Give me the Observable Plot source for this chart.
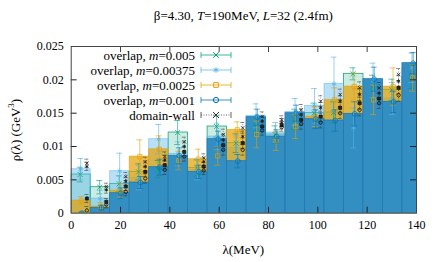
<!DOCTYPE html>
<html><head><meta charset="utf-8">
<script src="https://cdn.jsdelivr.net/npm/d3@7"></script>
<script src="https://cdn.jsdelivr.net/npm/@observablehq/plot@0.6"></script>
<style>
body{margin:0;background:#fff;font-family:"Liberation Serif","Times New Roman",Times,serif;}
#wrap{position:relative;width:436px;height:262px;font-family:"Liberation Serif","Times New Roman",Times,serif;color:#000;}
.lab{position:absolute;font-family:"Liberation Serif","Times New Roman",Times,serif !important;font-size:13px;line-height:13px;white-space:nowrap;}
#overlay{position:absolute;left:0;top:0;pointer-events:none;}
svg text{font-family:"Liberation Serif","Times New Roman",Times,serif !important;}
</style></head><body>
<div id="wrap">
  <div id="plot"></div>
  <div class="lab" id="title" style="left:70.7px;width:345.3px;top:9px;text-align:center;">β=4.30, <i>T</i>=190MeV, <i>L</i>=32 (2.4fm)</div>
  <div class="lab" id="xlab" style="left:70.7px;width:345.3px;top:243px;text-align:center;">λ(MeV)</div>
  <div class="lab" id="ylab" style="left:15px;top:130px;transform:translate(-50%,-50%) rotate(-90deg);">ρ(λ) (GeV<sup style="font-size:9px;line-height:0">3</sup>)</div>
</div>
<script>
// ---- data ----
const binWidth = 7.9;               // MeV
const binCount = 18;
const xTicks = [0, 20, 40, 60, 80, 100, 120, 140];
const yTicks = [0, 0.005, 0.01, 0.015, 0.02, 0.025];

const seriesNames = ["overlap, m=0.005", "overlap, m=0.00375", "overlap, m=0.0025", "overlap, m=0.001", "domain-wall"];

// overlap histograms (rho per bin) and errors
const ov005   = [0.0058,0.0039,0.0044,0.0062,0.0066,0.0121,0.0068,0.0130,0.0105,0.0131,0.0118,0.0141,0.0150,0.0151,0.0209,0.0189,0.0185,0.0205];
const ov00375 = [0.0066,0.0022,0.0063,0.0053,0.0111,0.0089,0.0065,0.0115,0.0098,0.0146,0.0121,0.0152,0.0161,0.0194,0.0128,0.0199,0.0172,0.0218];
const ov0025  = [0.0019,0.0010,0.0034,0.0085,0.0096,0.0079,0.0081,0.0086,0.0125,0.0118,0.0108,0.0130,0.0145,0.0170,0.0190,0.0170,0.0190,0.0203];
const ov001   = [0.0000,0.0008,0.0030,0.0046,0.0069,0.0086,0.0062,0.0111,0.0078,0.0144,0.0115,0.0150,0.0141,0.0139,0.0149,0.0201,0.0167,0.0225];

const err005   = [0.0011,0.0010,0.0012,0.0012,0.0013,0.0018,0.0012,0.0016,0.0014,0.0013,0.0013,0.0015,0.0015,0.0016,0.0009,0.0018,0.0016,0.0018];
const err00375 = [0.0016,0.0012,0.0027,0.0018,0.0022,0.0018,0.0015,0.0020,0.0018,0.0018,0.0015,0.0020,0.0026,0.0040,0.0030,0.0026,0.0024,0.0022];
const err0025  = [0.0006,0.0006,0.0010,0.0025,0.0020,0.0014,0.0015,0.0014,0.0012,0.0020,0.0014,0.0018,0.0015,0.0018,0.0020,0.0022,0.0028,0.0020];
const err001   = [0.0002,0.0004,0.0008,0.0009,0.0012,0.0012,0.0010,0.0012,0.0010,0.0012,0.0010,0.0012,0.0014,0.0016,0.0018,0.0018,0.0016,0.0016];

// domain-wall points (four masses) and errors
const dwA = [0.0075,0.0040,0.0055,0.0077,0.0085,0.0107,0.0083,0.0118,0.0128,0.0145,0.0140,0.0155,0.0168,0.0178,0.0188,0.0188,0.0208,null];
const dwB = [0.0070,0.0035,0.0048,0.0070,0.0080,0.0100,0.0077,0.0110,0.0115,0.0138,0.0136,0.0148,0.0158,0.0168,0.0178,0.0180,0.0198,null];
const dwC = [0.0022,0.0017,0.0040,0.0062,0.0072,0.0092,0.0070,0.0102,0.0105,0.0130,0.0132,0.0140,0.0145,0.0158,0.0165,0.0172,0.0188,null];
const dwD = [0.0004,0.0013,0.0032,0.0052,0.0065,0.0085,0.0064,0.0095,0.0095,0.0124,0.0129,0.0134,0.0136,0.0150,0.0155,0.0165,0.0177,null];
const dwErr = [0.0006,0.0005,0.0006,0.0007,0.0007,0.0007,0.0006,0.0008,0.0008,0.0007,0.0006,0.0008,0.0008,0.0008,0.0009,0.0008,0.0009,null];

// ---- styles ----
const serif = "'Liberation Serif', 'Times New Roman', Times, serif";
const ovColors = ["#009e73", "#56b4e9", "#e69f00", "#0072b2"];
const ovSymbols = ["times", "asterisk", "square", "circle"];
const ovOffsets = [-0.3, -0.1, 0.15, 0.4];
const dwOffset = 2.4;
const capHalf = 1.2;

const ovValues = [ov005, ov00375, ov0025, ov001];
const ovErrors = [err005, err00375, err0025, err001];
const dwValues = [dwA, dwB, dwC, dwD];

const bins = d3.range(binCount).map(k => ({k, x1: k * binWidth, x2: (k + 1) * binWidth, xc: (k + 0.5) * binWidth}));

const barStyles = [
  {fill: "#009e73", fillOpacity: 0.2, stroke: "#009e73", strokeOpacity: 0.9},
  {fill: "#56b4e9", fillOpacity: 0.42, stroke: "#56b4e9", strokeOpacity: 0.6},
  {fill: "#e69f00", fillOpacity: 0.7, stroke: "#e69f00", strokeOpacity: 0.6},
  {fill: "#338ec2", fillOpacity: 1, stroke: "#2079b3", strokeOpacity: 1}
];

const marks = [];
ovValues.forEach((vals, s) => {
  const rows = bins.map(b => ({...b, v: vals[b.k]}));
  marks.push(Plot.rectY(rows, {x1: "x1", x2: "x2", y: "v", ...barStyles[s], strokeWidth: 0.8, clip: true}));
});

function errorMarks(rows, color, opacity, dash, cap) {
  const o = {stroke: color, strokeOpacity: opacity, strokeWidth: 1, clip: true};
  return [
    Plot.ruleX(rows, {x: "xp", y1: d => d.v - d.e, y2: d => d.v + d.e, ...o, strokeDasharray: dash}),
    Plot.ruleY(rows, {y: d => d.v + d.e, x1: d => d.xp - cap, x2: d => d.xp + cap, ...o}),
    Plot.ruleY(rows, {y: d => d.v - d.e, x1: d => d.xp - cap, x2: d => d.xp + cap, ...o})
  ];
}

ovValues.forEach((vals, s) => {
  const rows = bins.map(b => ({xp: b.xc + ovOffsets[s], v: vals[b.k], e: ovErrors[s][b.k]}));
  marks.push(...errorMarks(rows, ovColors[s], 0.6, null, capHalf));
  marks.push(Plot.dot(rows, {x: "xp", y: "v", symbol: ovSymbols[s], r: 2.4, stroke: ovColors[s], strokeOpacity: 0.7, strokeWidth: 1, fill: s === 1 ? ovColors[s] : "none", fillOpacity: 0.5, clip: true}));
});

dwValues.forEach((vals, s) => {
  const rows = bins.filter(b => vals[b.k] != null).map(b => ({xp: b.xc + dwOffset, v: vals[b.k], e: dwErr[b.k]}));
  marks.push(...errorMarks(rows, "#333", 0.55, "1,1.5", 0.8));
  marks.push(Plot.dot(rows, {x: "xp", y: "v", symbol: ovSymbols[s], r: 1.7, stroke: "#111", strokeOpacity: 0.85, strokeWidth: 0.9, fill: s === 2 ? "#222" : "none", clip: true}));
});

// inward ticks (all four sides) and frame
marks.push(Plot.ruleY(yTicks.slice(1, -1), {y: d => d, x1: 0, x2: 2.4, stroke: "#222"}));
marks.push(Plot.ruleY(yTicks.slice(1, -1), {y: d => d, x1: 137.6, x2: 140, stroke: "#222"}));
marks.push(Plot.ruleX(xTicks.slice(1, -1), {x: d => d, y1: 0, y2: 0.0009, stroke: "#222"}));
marks.push(Plot.ruleX(xTicks.slice(1, -1), {x: d => d, y1: 0.0241, y2: 0.025, stroke: "#444"}));
marks.push(Plot.frame({stroke: "#444", strokeWidth: 1}));
marks.push(Plot.axisX({ticks: xTicks, tickSize: 0, tickPadding: 7, tickFormat: d => String(d), label: null, fontSize: 12, fontFamily: serif}));
marks.push(Plot.axisY({ticks: yTicks, tickSize: 0, tickPadding: 7.5, tickFormat: d => String(d), label: null, fontSize: 12, fontFamily: serif}));

const chart = Plot.plot({
  width: 436, height: 262,
  marginLeft: 70.7, marginRight: 20, marginTop: 46, marginBottom: 49.3,
  x: {domain: [0, 140]},
  y: {domain: [0, 0.025]},
  style: {fontFamily: serif, fontSize: "12px", color: "#000", background: "#fff"},
  marks
});
document.getElementById("plot").appendChild(chart);

// ---- legend (inside plot, top-left) ----
const legendY = [55, 70, 85, 100, 115];
const svg = d3.select("#wrap").append("svg").attr("id", "overlay").attr("width", 436).attr("height", 262);
seriesNames.forEach((name, i) => {
  const y = legendY[i];
  const t = svg.append("text").attr("x", 195).attr("y", y).attr("dy", "0.35em")
    .attr("text-anchor", "end").attr("font-size", 13)
    .attr("font-family", serif);
  const parts = name.split("m=");
  if (parts.length === 2) {
    t.append("tspan").text(parts[0]);
    t.append("tspan").attr("font-style", "italic").text("m");
    t.append("tspan").text("=" + parts[1]);
  } else t.text(name);
  const isDw = i === 4;
  const col = isDw ? "#555" : ovColors[i];
  const g = svg.append("g").attr("stroke", col).attr("stroke-opacity", isDw ? 0.9 : 0.75).attr("fill", "none");
  g.append("line").attr("x1", 201).attr("x2", 231).attr("y1", y).attr("y2", y).attr("stroke-dasharray", isDw ? "1,1.5" : null);
  g.append("line").attr("x1", 201).attr("x2", 201).attr("y1", y - 3).attr("y2", y + 3);
  g.append("line").attr("x1", 231).attr("x2", 231).attr("y1", y - 3).attr("y2", y + 3);
  const sym = d3.symbol().type(isDw ? d3.symbolTimes : [d3.symbolTimes, d3.symbolAsterisk, d3.symbolSquare, d3.symbolCircle][i]).size(isDw ? 26 : 22);
  svg.append("path").attr("d", sym()).attr("transform", `translate(216,${y})`)
    .attr("stroke", isDw ? "#333" : col).attr("fill", i === 1 ? col : "none").attr("stroke-width", 1);
});
</script>
</body></html>
